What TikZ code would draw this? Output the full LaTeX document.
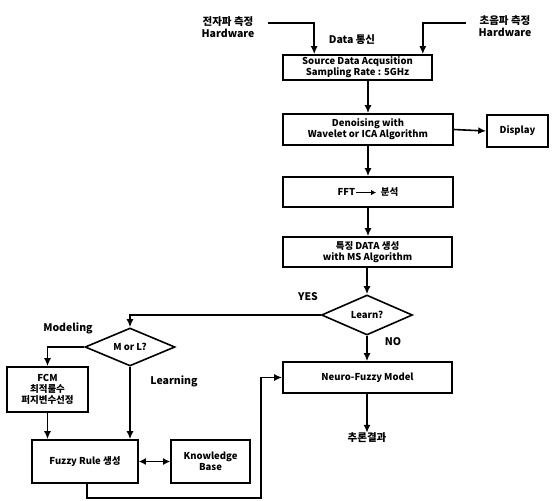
\documentclass[tikz,border=0pt]{standalone}
\usepackage{fontspec}
\setmainfont{Noto Sans CJK KR}
\usetikzlibrary{arrows.meta,shapes.geometric}
\begin{document}
\begin{tikzpicture}[x=1pt,y=-1pt,
  every node/.style={font=\fontsize{9.5}{11}\selectfont\bfseries, align=center, inner sep=0pt},
  box/.style={draw, line width=1.6pt, rectangle},
  dia/.style={draw, line width=1.6pt, diamond, aspect=2.3},
  lbl/.style={font=\fontsize{10.5}{12}\selectfont\bfseries},
  arr/.style={line width=1.6pt, -{Latex[length=8pt,width=7pt]}},
  darr/.style={line width=1.6pt, {Latex[length=7pt,width=7pt]}-{Latex[length=7pt,width=7pt]}}]
\useasboundingbox (0,0) rectangle (553,500);
% top labels
\node[lbl] (hw1) at (228,27) {전자파 측정\\Hardware};
\node[lbl] (hw2) at (505,26) {초음파 측정\\Hardware};
\node[lbl] (dcom) at (352,40) {Data 통신};
% boxes
\node[box, minimum width=149pt, minimum height=25pt] (src) at (357.5,67.5) {Source Data Acqusition\\Sampling Rate : 5GHz};
\node[box, minimum width=170pt, minimum height=31pt] (den) at (368,129.5) {Denoising with\\Wavelet or ICA Algorithm};
\node[box, minimum width=61pt, minimum height=32pt] (disp) at (517.5,131) {Display};
\node[box, minimum width=170pt, minimum height=30pt] (fft) at (368,192) {FFT\tikz[baseline]\draw[line width=1.8pt,-{Latex[length=5pt,width=5.5pt]}] (0pt,3pt) -- (20pt,3pt);\, 분석};
\node[box, minimum width=169pt, minimum height=30pt] (feat) at (367.5,252) {특징 DATA 생성\\with MS Algorithm};
\node[dia, minimum width=91pt, minimum height=40pt] (learn) at (367,315) {Learn?};
\node[box, minimum width=169pt, minimum height=31pt] (neuro) at (367.5,377.5) {Neuro-Fuzzy Model};
\node[lbl] (res) at (367,438) {추론결과};
\node[dia, minimum width=90pt, minimum height=38pt] (mol) at (130,347) {M or L?};
\node[box, minimum width=81pt, minimum height=45pt] (fcm) at (47.5,389.5) {FCM\\최적룰수\\퍼지변수선정};
\node[box, minimum width=106pt, minimum height=43pt] (fuzzy) at (85,461.5) {Fuzzy Rule 생성};
\node[box, minimum width=79pt, minimum height=43pt] (kb) at (210.5,461.5) {Knowledge\\Base};
% edge labels
\node[lbl] (yes) at (308,297) {YES};
\node[lbl] (no) at (393,342) {NO};
\node[lbl] (model) at (68,328) {Modeling};
\node[lbl] (learning) at (174,381) {Learning};
% connectors
\coordinate (h1) at (268,23);
\coordinate (h2) at (466,23);
\draw[arr] (h1) -| ([xshift=32pt]src.north west);
\draw[arr] (h2) -| ([xshift=-10pt]src.north east);
\draw[arr] (src.south -| den.north) -- (den.north);
\draw[arr] (den.east) -- (disp.west);
\draw[arr] (den.south) -- (fft.north);
\draw[arr] (fft.south) -- (fft.south |- feat.north);
\draw[arr] (feat.south -| learn.north) -- (learn.north);
\draw[arr] (learn.south) -- (learn.south |- neuro.north);
\draw[arr] (learn.south |- neuro.south) -- (res.north);
\draw[arr] (learn.west) -| (mol.north);
\draw[arr] (mol.west) -| (fcm.north);
\draw[arr] (mol.south) -- (mol.south |- fuzzy.north);
\draw[arr] (fcm.south) -- (fcm.south |- fuzzy.north);
\draw[darr] (fuzzy.east) -- (kb.west);
\draw[arr] ([xshift=2pt]fuzzy.south) -- ++(0,14) -| ([xshift=-21pt]neuro.west) -- (neuro.west);
\end{tikzpicture}
\end{document}
